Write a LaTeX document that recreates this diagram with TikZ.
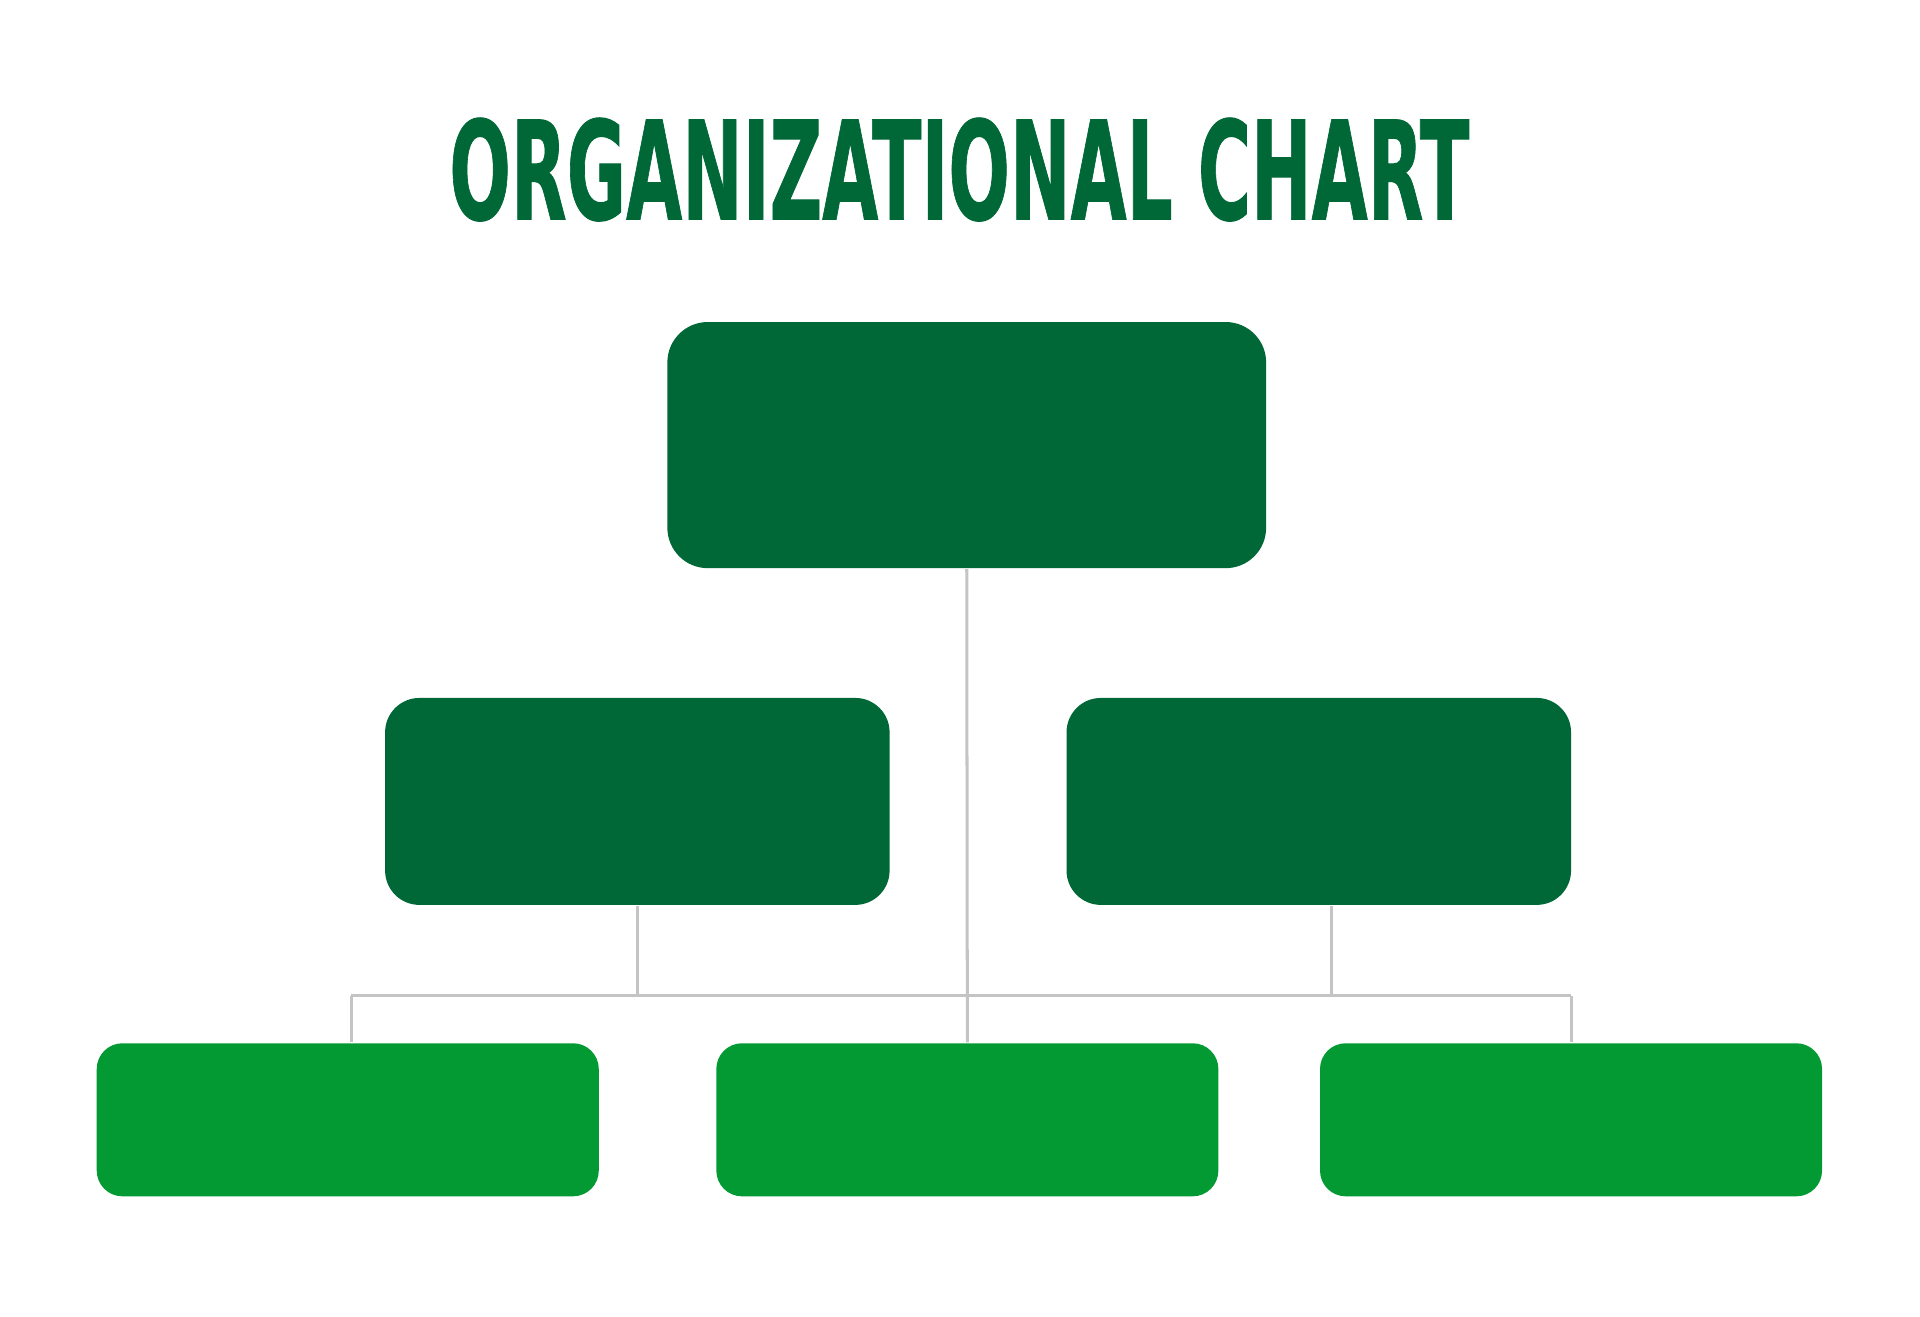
\documentclass[tikz,border=0pt]{standalone}
\usepackage{fontspec}
\setmainfont{Liberation Sans}
\newfontfamily\titlefont[FakeBold=0.8]{DejaVu Sans Condensed Bold}
\usepackage{graphicx}
\usepackage{tikz}
\definecolor{darkgreen}{HTML}{006837}
\definecolor{lightgreen}{HTML}{039933}
\definecolor{linegray}{HTML}{C4C4C4}

\begin{document}
\begin{tikzpicture}[
	boss/.style={fill=darkgreen, rounded corners=0.33cm, minimum width=4.89cm, minimum height=2.01cm, inner sep=0pt},
	head/.style={fill=darkgreen, rounded corners=0.28cm, minimum width=4.12cm, minimum height=1.69cm, inner sep=0pt},
	staff/.style={fill=lightgreen, rounded corners=0.21cm, minimum width=4.10cm, minimum height=1.25cm, inner sep=0pt},
	conn/.style={draw=linegray, line width=0.7pt}
	]
			\useasboundingbox (0,0) rectangle (15.68,-10.75);
			
			\node[inner sep=0pt, text=darkgreen](title) at (7.835,-1.385) {\resizebox{8.33cm}{0.83cm}{\titlefont ORGANIZATIONAL CHART}};
			
			\node[boss](top) at (7.895,-3.635) {};
			
			\node[head](ml) at (5.205,-6.545) {};
			\node[head](mr) at (10.77,-6.545) {};
			
			\node[staff](bl) at (2.84,-9.145) {};
			\node[staff](bm) at (7.90,-9.145) {};
			\node[staff](br) at (12.83,-9.145) {};
			
			% horizontal bar
			\coordinate (barL) at (2.87,-8.13);
			\coordinate (barR) at (12.83,-8.13);
			\draw[conn] (barL) -- (barR);
			
			\draw[conn] (top.south) -- (bm.north);
			\draw[conn] (ml.south) -- (ml.south |- barL);
			\draw[conn] ([xshift=1mm]mr.south) -- ([xshift=1mm]mr.south |- barR);
			\draw[conn] (barL) -- (barL |- bl.north);
			\draw[conn] (barR) -- (br.north);
			
\end{tikzpicture}
\end{document}
